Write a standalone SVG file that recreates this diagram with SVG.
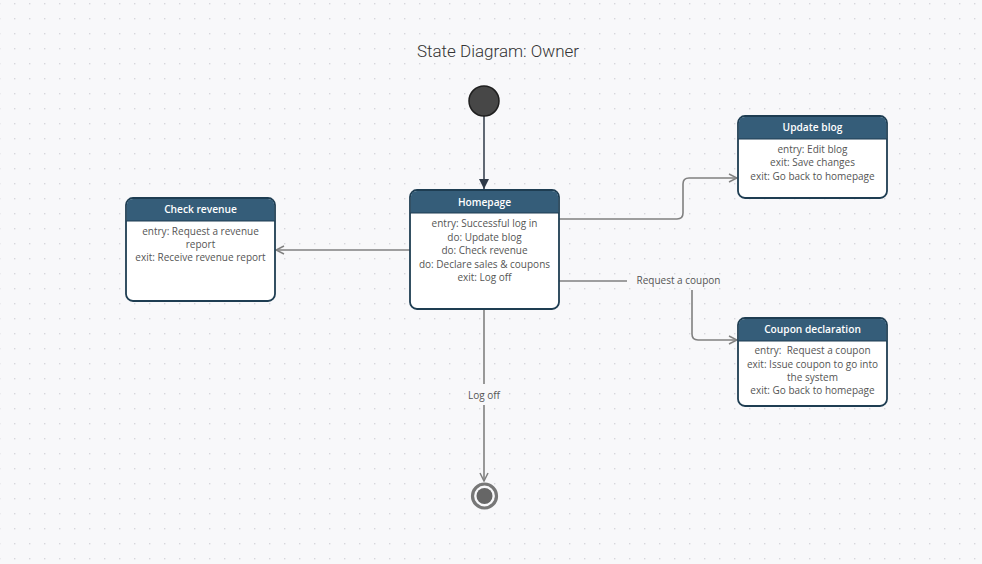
<svg xmlns="http://www.w3.org/2000/svg" width="982" height="564" viewBox="0 0 982 564">
<defs>
<pattern id="dots" x="14" y="3" width="15" height="15" patternUnits="userSpaceOnUse">
<rect x="0" y="0" width="1.4" height="1.4" fill="#d6d6dc"/>
</pattern>
<marker id="open" viewBox="0 0 10 10" refX="9" refY="5" markerWidth="10" markerHeight="10" markerUnits="userSpaceOnUse" orient="auto">
<path d="M1 1 L9 5 L1 9" fill="none" stroke="#808080" stroke-width="1.5"/>
</marker>
<marker id="filled" viewBox="0 0 10 10" refX="10" refY="5" markerWidth="10" markerHeight="10" markerUnits="userSpaceOnUse" orient="auto">
<path d="M0 0 L10 5 L0 10 Z" fill="#2f3a48"/>
</marker>
</defs>
<style>
.hdr{fill:#355d79}
.box{fill:#ffffff;stroke:#1e3d52;stroke-width:1.8}
.ht{font-family:"Open Sans","Noto Sans",sans-serif;font-size:10.2px;font-weight:600;fill:#ffffff;text-anchor:middle}
.bt{font-family:"Open Sans","Noto Sans",sans-serif;font-size:10px;fill:#555555;text-anchor:middle}
.conn{fill:none;stroke:#808080;stroke-width:1.6}
.lbl{font-family:"Open Sans","Noto Sans",sans-serif;font-size:10px;fill:#555555;text-anchor:middle}
</style>
<rect width="982" height="564" fill="#f8f8fa"/>
<rect width="982" height="564" fill="url(#dots)"/>
<text x="498" y="57" font-family="Roboto,sans-serif" font-weight="300" font-size="17" fill="#333333" text-anchor="middle">State Diagram: Owner</text>

<g id="connectors">
<path d="M484 116 V189" fill="none" stroke="#3a4452" stroke-width="1.6" marker-end="url(#filled)"/>
<path class="conn" d="M410 250 H276" marker-end="url(#open)"/>
<path class="conn" d="M559 219 H677 Q683 219 683 213 V184 Q683 178 689 178 H737" marker-end="url(#open)"/>
<path class="conn" d="M559 281 H627"/>
<path class="conn" d="M692 290 V334 Q692 340 698 340 H737" marker-end="url(#open)"/>
<text class="lbl" x="678.5" y="284">Request a coupon</text>
<path class="conn" d="M484 309 V384"/>
<path class="conn" d="M484 405 V481" marker-end="url(#open)"/>
<text class="lbl" x="484" y="399">Log off</text>
</g>

<g id="start">
<circle cx="484" cy="101" r="15" fill="#474747" stroke="#1e1e1e" stroke-width="1.5"/>
</g>

<g id="end">
<circle cx="484.5" cy="496" r="12" fill="none" stroke="#777777" stroke-width="3.2"/>
<circle cx="484.5" cy="496" r="8" fill="#666666"/>
</g>

<g id="homepage">
<rect class="box" x="410" y="190" width="149" height="119" rx="7"/>
<path class="hdr" d="M410.9 213 V197 Q410.9 190.9 417 190.9 H552 Q558.1 190.9 558.1 197 V213 Z"/>
<line x1="410" y1="213" x2="559" y2="213" stroke="#1e3d52" stroke-width="1"/>
<text class="ht" x="484.5" y="206">Homepage</text>
<text class="bt" x="484.5" y="227">entry: Successful log in</text>
<text class="bt" x="484.5" y="241">do: Update blog</text>
<text class="bt" x="484.5" y="254">do: Check revenue</text>
<text class="bt" x="484.5" y="268">do: Declare sales &amp; coupons</text>
<text class="bt" x="484.5" y="281">exit: Log off</text>
</g>

<g id="check-revenue">
<rect class="box" x="126" y="198" width="149" height="103" rx="7"/>
<path class="hdr" d="M126.9 221 V205 Q126.9 198.9 133 198.9 H268 Q274.1 198.9 274.1 205 V221 Z"/>
<line x1="126" y1="221" x2="275" y2="221" stroke="#1e3d52" stroke-width="1"/>
<text class="ht" x="200.5" y="213">Check revenue</text>
<text class="bt" x="200.5" y="235">entry: Request a revenue</text>
<text class="bt" x="200.5" y="248">report</text>
<text class="bt" x="200.5" y="261">exit: Receive revenue report</text>
</g>

<g id="update-blog">
<rect class="box" x="738" y="116" width="149" height="82" rx="7"/>
<path class="hdr" d="M738.9 139 V123 Q738.9 116.9 745 116.9 H880 Q886.1 116.9 886.1 123 V139 Z"/>
<line x1="738" y1="139" x2="887" y2="139" stroke="#1e3d52" stroke-width="1"/>
<text class="ht" x="812.5" y="131">Update blog</text>
<text class="bt" x="812.5" y="153">entry: Edit blog</text>
<text class="bt" x="812.5" y="166">exit: Save changes</text>
<text class="bt" x="812.5" y="180">exit: Go back to homepage</text>
</g>

<g id="coupon-declaration">
<rect class="box" x="738" y="318" width="149" height="88" rx="7"/>
<path class="hdr" d="M738.9 341 V325 Q738.9 318.9 745 318.9 H880 Q886.1 318.9 886.1 325 V341 Z"/>
<line x1="738" y1="341" x2="887" y2="341" stroke="#1e3d52" stroke-width="1"/>
<text class="ht" x="812.5" y="333">Coupon declaration</text>
<text class="bt" x="812.5" y="354" xml:space="preserve">entry:  Request a coupon</text>
<text class="bt" x="812.5" y="368">exit: Issue coupon to go into</text>
<text class="bt" x="812.5" y="381">the system</text>
<text class="bt" x="812.5" y="394">exit: Go back to homepage</text>
</g>
</svg>
